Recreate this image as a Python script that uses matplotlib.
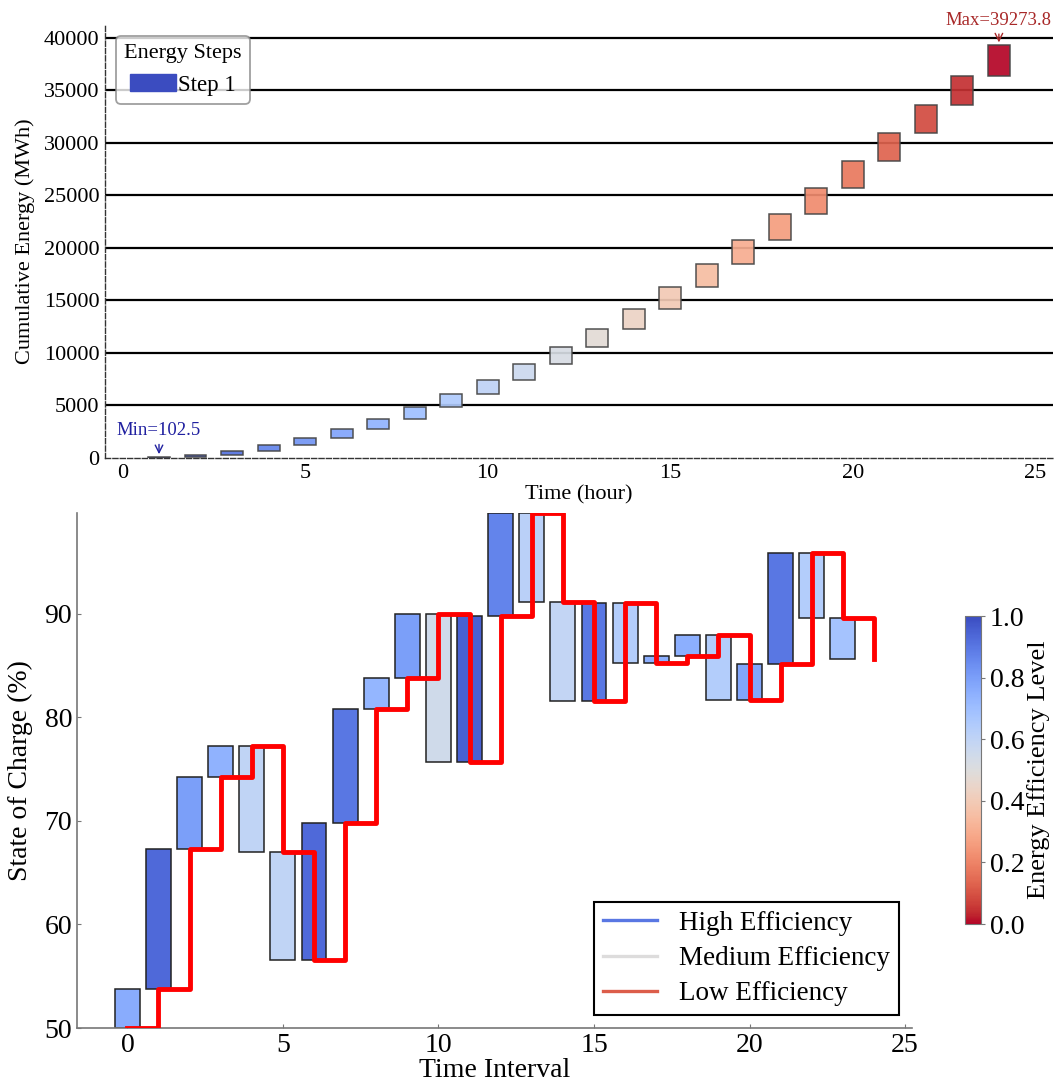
import matplotlib
matplotlib.use("Agg")
import matplotlib.pyplot as plt
import numpy as np
from matplotlib.lines import Line2D
from matplotlib.patches import Patch
from matplotlib.cm import ScalarMappable
from matplotlib.colors import Normalize

plt.rcParams['font.family'] = ['Liberation Serif', 'DejaVu Serif']

# --- datos: energía acumulada por hora ---
hours = np.arange(1, 25)
cum_energy = np.array([0, 102.5, 310, 660, 1200, 1900, 2750, 3710, 4900, 6080,
                       7440, 8960, 10550, 12290, 14190, 16250, 18440, 20780,
                       23190, 25660, 28250, 30890, 33580, 36330, 39273.8])

# --- datos: estado de carga por intervalo ---
intervals = np.arange(0, 25)
soc = np.array([50, 53.8, 67.3, 74.2, 77.2, 67.0, 56.6, 69.8, 80.8, 83.8,
                90.0, 75.7, 89.8, 99.7, 91.1, 81.6, 91.0, 85.2, 85.9, 87.9,
                81.7, 85.1, 95.8, 89.6, 85.6])
efficiency = np.array([0.76, 0.93, 0.80, 0.74, 0.60, 0.60, 0.93, 0.90, 0.73, 0.80,
                       0.55, 0.95, 0.87, 0.62, 0.59, 0.90, 0.64, 0.75, 0.75, 0.64,
                       0.78, 0.90, 0.64, 0.68])
legend_labels = ['High Efficiency', 'Medium Efficiency', 'Low Efficiency']

cmap = plt.get_cmap('coolwarm')

fig = plt.figure(figsize=(10.56, 10.81), dpi=100)

# --- gráfico superior ---
ax1 = fig.add_axes([0.0994, 0.5763, 0.8977, 0.4010])
step_colors = cmap(np.linspace(0, 1, len(hours)))
ax1.bar(hours, np.diff(cum_energy), bottom=cum_energy[:-1], width=0.6,
        color=step_colors, edgecolor='#444444', linewidth=1.1, alpha=0.92, zorder=3)

ax1.yaxis.grid(True, color='black', linewidth=1.6)
ax1.set_axisbelow(True)
for sp in ['top', 'right']:
    ax1.spines[sp].set_visible(False)
for sp in ['left', 'bottom']:
    ax1.spines[sp].set_linestyle('--')
    ax1.spines[sp].set_linewidth(1.0)
    ax1.spines[sp].set_color('#333333')
ax1.tick_params(length=0, labelsize=16, pad=4)
ax1.set_xlabel('Time (hour)', fontsize=16, labelpad=2)
ax1.set_ylabel('Cumulative Energy (MWh)', fontsize=16, labelpad=6)
fig.canvas.draw()
ax1.yaxis.get_gridlines()[0].set_visible(False)

i_min = 1
i_max = len(cum_energy) - 1
ax1.annotate(f'Min={cum_energy[i_min]}', xy=(hours[0], cum_energy[i_min]),
             xytext=(0, 13), textcoords='offset points', ha='center', va='bottom',
             color='#2020a0', fontsize=13.5,
             arrowprops=dict(arrowstyle='->', color='#2020a0', lw=1))
ax1.annotate(f'Max={cum_energy[i_max]}', xy=(hours[-1], cum_energy[i_max]),
             xytext=(0, 12), textcoords='offset points', ha='center', va='bottom',
             color='#a82828', fontsize=13.5, annotation_clip=False,
             arrowprops=dict(arrowstyle='->', color='#a82828', lw=1))

leg1 = ax1.legend(handles=[Patch(facecolor=cmap(0.0), edgecolor='#3b4cc0', label='Step 1')],
                  title='Energy Steps', loc='upper left', fontsize=16.5, title_fontsize=16,
                  handletextpad=0.1, borderpad=0.35, fancybox=True, edgecolor='#888888')
leg1.get_frame().set_linewidth(1.3)

# --- gráfico inferior ---
ax2 = fig.add_axes([0.0729, 0.0490, 0.7907, 0.4764])
cmap_r = plt.get_cmap('coolwarm_r')
ax2.bar(intervals[:-1], np.diff(soc), bottom=soc[:-1], width=0.8,
        color=cmap_r(efficiency), edgecolor='#222222', linewidth=1.1, zorder=2)
ax2.step(intervals, soc, where='post', color='red', linewidth=3.5, zorder=3)
ax2.set_ylim(soc.min(), soc.max())

for sp in ['top', 'right']:
    ax2.spines[sp].set_visible(False)
for sp in ['left', 'bottom']:
    ax2.spines[sp].set_color('#777777')
    ax2.spines[sp].set_linewidth(1.2)
ax2.tick_params(direction='in', length=3, color='#777777', labelsize=20)
ax2.set_xlabel('Time Interval', fontsize=20, labelpad=0)
ax2.set_ylabel('State of Charge (%)', fontsize=20, labelpad=8)

handles = [Line2D([0], [0], color=cmap(0.1), lw=2.4),
           Line2D([0], [0], color=cmap(0.5), lw=2.4),
           Line2D([0], [0], color=cmap(0.88), lw=2.4)]
leg2 = ax2.legend(handles, legend_labels, loc='lower right', bbox_to_anchor=(0.984, 0.025),
                  borderaxespad=0, fontsize=19.5, fancybox=False, edgecolor='black',
                  framealpha=1, labelspacing=0.38, borderpad=0.32)
leg2.get_frame().set_linewidth(1.5)

# --- barra de color ---
cax = fig.add_axes([0.9138, 0.1452, 0.01515, 0.2849])
sm = ScalarMappable(norm=Normalize(0, 1), cmap=cmap_r)
cb = fig.colorbar(sm, cax=cax)
cb.set_ticks([0, 0.2, 0.4, 0.6, 0.8, 1.0])
cb.ax.tick_params(labelsize=20, length=3, color='#777777')
cb.outline.set_edgecolor('#777777')
cb.set_label('Energy Efficiency Level', fontsize=19, labelpad=2)

fig.savefig('out.png', dpi=100)
